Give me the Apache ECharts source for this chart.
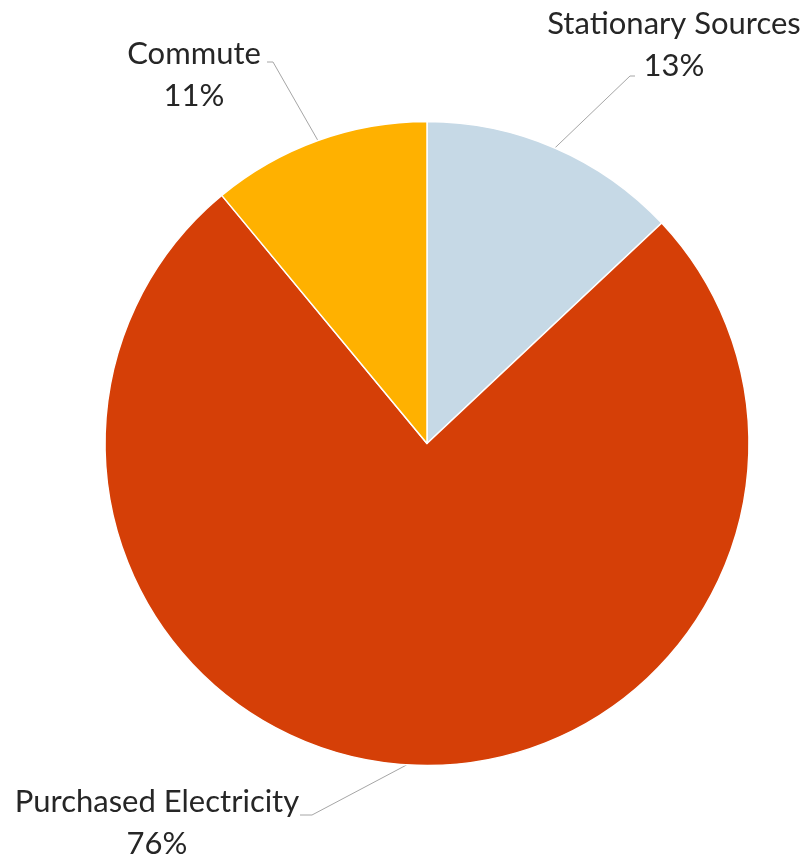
<!DOCTYPE html>
<html>
<head>
<meta charset="utf-8">
<script src="https://cdn.jsdelivr.net/npm/echarts@6/dist/echarts.min.js"></script>
<style>
  html, body { margin: 0; padding: 0; background: #ffffff; }
  #chart { width: 809px; height: 864px; }
</style>
</head>
<body>
<div id="chart"></div>
<script>
// Emission sources and their share of the total (%)
const categories = ['Stationary Sources', 'Purchased Electricity', 'Commute'];
const shares = [13, 76, 11];

const sliceColors = ['#C6D9E6', '#D53F07', '#FFB100'];

// Label block centres, plus where the leader line meets the block
// (offset from the centre) and the length of its short horizontal tail.
const labelPlacement = [
  { x: 674, y: 45,  endDx: -39, endDy: 31,  tail: 5 },
  { x: 157, y: 823, endDx: 143, endDy: -8,  tail: -12 },
  { x: 194, y: 75,  endDx: 73,  endDy: -13, tail: -6 }
];

const pieCenter = [427, 443.5];
const pieRadius = 322;

// Outer-edge point at the middle angle of slice i (clockwise from 12 o'clock)
function sliceEdgePoint(i) {
  const total = shares.reduce((a, b) => a + b, 0);
  let before = 0;
  for (let k = 0; k < i; k++) before += shares[k];
  const mid = (before + shares[i] / 2) / total * Math.PI * 2;
  return [pieCenter[0] + pieRadius * Math.sin(mid), pieCenter[1] - pieRadius * Math.cos(mid)];
}

const chart = echarts.init(document.getElementById('chart'), null, { renderer: 'canvas' });

chart.setOption({
  backgroundColor: '#ffffff',
  animation: false,
  series: [{
    type: 'pie',
    center: pieCenter,
    radius: pieRadius,
    startAngle: 90,
    clockwise: true,
    avoidLabelOverlap: false,
    percentPrecision: 0,
    data: categories.map((name, i) => ({
      name: name,
      value: shares[i],
      itemStyle: { color: sliceColors[i] }
    })),
    itemStyle: { borderColor: '#ffffff', borderWidth: 1.5 },
    label: {
      show: true,
      position: 'outside',
      formatter: '{b}\n{d}%',
      fontFamily: 'Lato',
      fontSize: 31,
      lineHeight: 42,
      color: '#262626',
      align: 'center'
    },
    labelLine: {
      show: true,
      length: 20,
      length2: 10,
      lineStyle: { color: '#A6A6A6', width: 1 }
    },
    labelLayout: function (params) {
      const p = labelPlacement[params.dataIndex];
      const start = (params.labelLinePoints && params.labelLinePoints[0]) || sliceEdgePoint(params.dataIndex);
      const end = [p.x + p.endDx, p.y + p.endDy];
      const elbow = [end[0] - p.tail, end[1]];
      return {
        x: p.x,
        y: p.y,
        align: 'center',
        verticalAlign: 'middle',
        labelLinePoints: [start, elbow, end]
      };
    },
    emphasis: { disabled: true }
  }]
});
</script>
</body>
</html>
